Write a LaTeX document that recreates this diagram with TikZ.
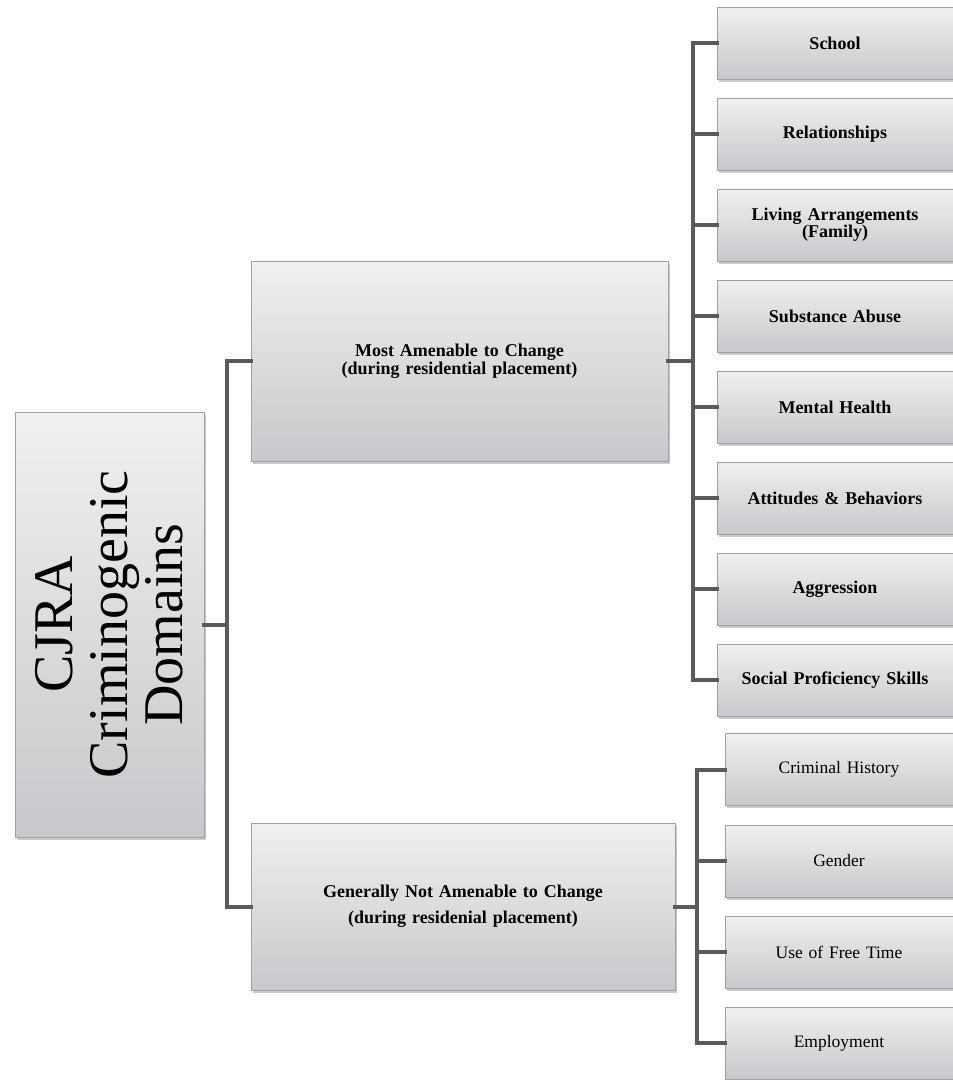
\documentclass[tikz,border=0pt]{standalone}
\usepackage{fontspec}
\setmainfont{Liberation Serif}
\usetikzlibrary{shadows}
\definecolor{conncol}{RGB}{90,90,94}
\definecolor{boxtop}{RGB}{240,240,240}
\definecolor{boxbot}{RGB}{200,200,204}
\definecolor{boxedge}{RGB}{160,160,162}
\tikzset{
  box/.style={draw=boxedge, line width=0.8pt, top color=boxtop, bottom color=boxbot,
    inner sep=2pt, align=center, text=black,
    drop shadow={shadow xshift=1.5pt, shadow yshift=-2.5pt, opacity=0.35, fill=black!60}},
  leafA/.style={box, minimum width=236pt, minimum height=72pt, text width=230pt,
    font=\fontsize{18}{17}\selectfont\bfseries},
  leafB/.style={box, minimum width=228pt, minimum height=72pt, text width=222pt,
    font=\fontsize{17.5}{19}\selectfont},
  conn/.style={draw=conncol, line width=4pt, line join=miter, line cap=rect}
}
\begin{document}
\begin{tikzpicture}[x=1pt, y=-1pt]
\useasboundingbox[fill=white] (0,0) rectangle (953,1080);

% root
\node[box, minimum width=189pt, minimum height=425pt] (root) at (109.5,624.5) {};
\node[rotate=90, align=center, font=\fontsize{56}{55}\selectfont] (rootlabel) at (root.center) {CJRA\\Criminogenic\\Domains};

% middle
\node[box, minimum width=417pt, minimum height=200pt, text width=400pt,
  font=\fontsize{18}{18.5}\selectfont\bfseries] (mid1) at (459.5,361)
  {Most Amenable to Change\\(during residential placement)};
\node[box, minimum width=424pt, minimum height=167pt, text width=400pt,
  font=\fontsize{18}{26}\selectfont\bfseries] (mid2) at (463,906.5)
  {Generally Not Amenable to Change\\(during residenial placement)};

% right group 1
\node[leafA] (r1) at (835,43) {School};
\node[leafA] (r2) at (835,134) {Relationships};
\node[leafA] (r3) at (835,225) {Living Arrangements\\(Family)};
\node[leafA] (r4) at (835,316) {Substance Abuse};
\node[leafA] (r5) at (835,407) {Mental Health};
\node[leafA] (r6) at (835,498) {Attitudes \& Behaviors};
\node[leafA] (r7) at (835,589) {Aggression};
\node[leafA] (r8) at (835,680) {Social Proficiency Skills};

% right group 2
\node[leafB] (s1) at (839,769.5) {Criminal History};
\node[leafB] (s2) at (839,861) {Gender};
\node[leafB] (s3) at (839,952) {Use of Free Time};
\node[leafB] (s4) at (839,1043) {Employment};

% bus coordinates
\coordinate (b1) at (227,0);
\coordinate (b2) at (693,0);
\coordinate (b3) at (697,0);

% connectors
\draw[conn] (root.east) -- (root.east -| b1);
\draw[conn] (mid1.west) -- (mid1.west -| b1) -- (mid2.west -| b1) -- (mid2.west);

\draw[conn] (mid1.east) -- (mid1.east -| b2);
\draw[conn] (r1.west) -- (r1.west -| b2) -- (r8.west -| b2) -- (r8.west);
\foreach \n in {r2,r3,r4,r5,r6,r7}{
  \draw[conn] (\n.west) -- (\n.west -| b2);
}

\draw[conn] (mid2.east) -- (mid2.east -| b3);
\draw[conn] (s1.west) -- (s1.west -| b3) -- (s4.west -| b3) -- (s4.west);
\foreach \n in {s2,s3}{
  \draw[conn] (\n.west) -- (\n.west -| b3);
}
\end{tikzpicture}
\end{document}
